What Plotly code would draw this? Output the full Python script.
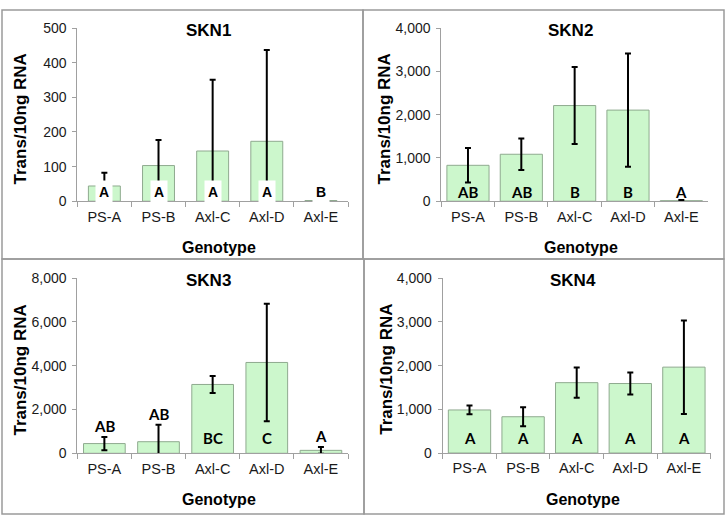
import plotly.graph_objects as go

genotypes = ["PS-A", "PS-B", "Axl-C", "Axl-D", "Axl-E"]

skn1_mean = [44, 103, 145, 173, 2]
skn1_err = [38, 74, 206, 264, 1]
skn1_letters = ["A", "A", "A", "A", "B"]

skn2_mean = [830, 1085, 2210, 2105, 12]
skn2_err = [400, 365, 890, 1310, 15]
skn2_letters = ["AB", "AB", "B", "B", "A"]

skn3_mean = [445, 530, 3145, 4150, 135]
skn3_err = [300, 770, 385, 2680, 150]
skn3_letters = ["AB", "AB", "BC", "C", "A"]
skn3_letter_above = [True, True, False, False, True]

skn4_mean = [985, 830, 1610, 1590, 1965]
skn4_err = [100, 215, 345, 250, 1070]
skn4_letters = ["A", "A", "A", "A", "A"]

titles = ["SKN1", "SKN2", "SKN3", "SKN4"]
y_max = [500, 4000, 8000, 4000]
y_dtick = [100, 1000, 2000, 1000]

W, H = 728, 525

def px_x(v):
    return v / W

def px_y(v):
    return 1 - v / H

# plot areas in pixels: (left, right, top, bottom)
areas = [
    (77.3, 348.0, 20.7, 199.3),
    (441.3, 708.0, 20.7, 199.3),
    (77.3, 348.0, 278.7, 459.3),
    (442.7, 710.7, 278.7, 459.0),
]
bar_widths = [0.59, 0.79, 0.77, 0.79]
label_shift = [9, 9, 15, 15]

panels = [
    (skn1_mean, skn1_err, skn1_letters, [False] * 5),
    (skn2_mean, skn2_err, skn2_letters, [False] * 5),
    (skn3_mean, skn3_err, skn3_letters, skn3_letter_above),
    (skn4_mean, skn4_err, skn4_letters, [False] * 5),
]

AXIS_COLOR = "#a0a0a0"
FONT = "Liberation Sans, Arial, sans-serif"

fig = go.Figure()
annotations = []
layout = {}

for i, (mean, err, letters, above) in enumerate(panels):
    n = i + 1
    sfx = "" if n == 1 else str(n)
    xa, ya = "x" + sfx, "y" + sfx
    fig.add_trace(go.Bar(
        x=genotypes, y=mean, xaxis=xa, yaxis=ya,
        width=bar_widths[i],
        marker=dict(color="#ccf7cc", line=dict(color="#8faa8f", width=1)),
        error_y=dict(type="data", array=err, visible=True, color="#000000",
                     thickness=2, width=3),
        showlegend=False, hoverinfo="skip",
    ))
    l, r, t, b = areas[i]
    layout["xaxis" + sfx] = dict(
        domain=[px_x(l), px_x(r)], anchor=ya, type="category",
        showline=True, linecolor=AXIS_COLOR, linewidth=1,
        ticks="outside", tickson="boundaries", ticklen=5, tickcolor=AXIS_COLOR,
        ticklabelstandoff=2,
        tickfont=dict(family=FONT, size=14.5, color="#1a1a1a"),
        showgrid=False, zeroline=False, fixedrange=True,
    )
    layout["yaxis" + sfx] = dict(
        domain=[px_y(b), px_y(t)], anchor=xa,
        range=[0, y_max[i]], dtick=y_dtick[i], tickformat=",d",
        showline=True, linecolor=AXIS_COLOR, linewidth=1,
        ticks="outside", ticklen=4, tickcolor=AXIS_COLOR,
        ticklabelstandoff=3,
        tickfont=dict(family=FONT, size=14, color="#1a1a1a"),
        showgrid=False, zeroline=False, fixedrange=True,
    )
    # title
    annotations.append(dict(
        text="<b>" + titles[i] + "</b>", xref=xa + " domain", yref=ya + " domain",
        x=0.5, y=1, xanchor="center", yanchor="middle", xshift=-4, yshift=-2,
        showarrow=False, font=dict(family=FONT, size=17, color="#000000"),
    ))
    # x title
    annotations.append(dict(
        text="<b>Genotype</b>", xref=xa + " domain", yref=ya + " domain",
        x=0.5, y=0, xanchor="center", yanchor="middle", yshift=-46, xshift=6,
        showarrow=False, font=dict(family=FONT, size=16, color="#000000"),
    ))
    # y title
    annotations.append(dict(
        text="<b>Trans/10ng RNA</b>", xref="paper", yref=ya + " domain",
        x=px_x(l - 56.5), y=0.5, xanchor="center", yanchor="middle", yshift=-4,
        textangle=-90, showarrow=False,
        font=dict(family=FONT, size=17, color="#000000"),
    ))
    # letters
    for g, m, e, let, ab in zip(genotypes, mean, err, letters, above):
        if n == 1:
            f = dict(family=FONT, size=14, color="#000000")
            extra = dict(bgcolor="#ffffff", borderpad=3)
        else:
            f = dict(family="Lato, sans-serif", size=15, color="#000000")
            extra = {}
        annotations.append(dict(
            text="<b>" + let + "</b>", xref=xa, yref=ya, x=g,
            y=(m + e) if ab else 0, yanchor="middle",
            yshift=11 if ab else label_shift[i],
            showarrow=False, font=f, **extra,
        ))

# panel borders
shapes = []
for (x0, x1, y0, y1) in [(2, 363, 2, 259), (363, 724, 2, 259),
                         (2, 364, 259, 522), (364, 724, 259, 522)]:
    shapes.append(dict(type="rect", xref="paper", yref="paper",
                       x0=px_x(x0), x1=px_x(x1), y0=px_y(y1), y1=px_y(y0),
                       line=dict(color="#9a9a9a", width=1.5)))

fig.update_layout(
    width=W, height=H, margin=dict(l=0, r=0, t=0, b=0),
    paper_bgcolor="#ffffff", plot_bgcolor="#ffffff",
    annotations=annotations, shapes=shapes, showlegend=False,
    **layout,
)

fig.write_html(
    "out.html",
    config={"displayModeBar": False},
    post_script="document.body.style.margin='0';document.body.style.overflow='hidden';",
)
